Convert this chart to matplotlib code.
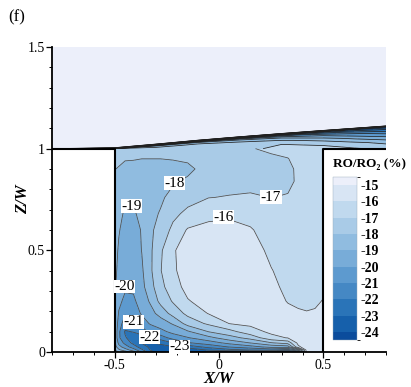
import numpy as np
import matplotlib.pyplot as plt
from matplotlib.colors import ListedColormap, BoundaryNorm
from matplotlib.cm import ScalarMappable
from matplotlib.ticker import MultipleLocator

plt.rcParams['font.family'] = ['Liberation Serif', 'DejaVu Serif']

# ---- canyon field: RO/RO2 (%) ----
x_canyon = [-0.5, -0.48, -0.45, -0.41, -0.37, -0.33, -0.28, -0.22, -0.15,
            -0.05, 0.05, 0.15, 0.25, 0.33, 0.38, 0.42, 0.46, 0.5]
z_canyon = [0, 0.01, 0.025, 0.045, 0.07, 0.1, 0.14, 0.19, 0.25, 0.32, 0.4,
            0.5, 0.6, 0.68, 0.76, 0.84, 0.9, 0.95, 1.0]
# one list per x column, bottom -> top
ro_cols = [
    [-17.5, -18.0, -18.5, -18.8, -18.9, -18.9, -18.9, -18.9, -18.9, -18.85, -18.8, -18.75, -18.7, -18.6, -18.4, -18.2, -17.98, -17.8, -17.7],
    [-18.0, -18.8, -19.6, -20.3, -20.8, -20.8, -20.5, -20.1, -19.7, -19.4, -19.2, -19.08, -18.95, -18.85, -18.6, -18.35, -18.05, -17.85, -17.75],
    [-18.5, -19.5, -20.5, -21.3, -21.9, -22.1, -21.5, -20.9, -20.3, -19.8, -19.55, -19.4, -19.25, -19.08, -18.8, -18.5, -18.2, -17.95, -17.85],
    [-19.5, -20.5, -21.5, -22.3, -22.5, -21.95, -21.1, -20.7, -20.2, -19.8, -19.6, -19.45, -19.3, -19.1, -18.75, -18.5, -18.3, -17.95, -17.9],
    [-21.0, -21.8, -22.5, -23.05, -22.5, -21.5, -20.6, -19.85, -19.5, -19.3, -19.15, -18.98, -18.95, -18.8, -18.6, -18.5, -18.3, -18.0, -17.85],
    [-22.5, -23.0, -23.2, -23.05, -22.05, -20.8, -19.9, -19.35, -18.9, -18.4, -18.2, -18.2, -18.25, -18.35, -18.45, -18.5, -18.35, -18.0, -17.8],
    [-23.9, -23.7, -23.4, -22.75, -21.5, -20.3, -19.5, -18.65, -17.7, -17.3, -17.05, -17.15, -17.5, -17.9, -18.2, -18.4, -18.3, -18.0, -17.8],
    [-24.05, -23.6, -23.1, -21.98, -20.6, -19.7, -18.9, -17.6, -16.9, -16.4, -16.15, -16.1, -16.8, -17.2, -17.6, -18.15, -18.35, -17.95, -17.8],
    [-24.2, -23.7, -22.6, -21.1, -20.07, -19.15, -17.6, -16.75, -16.07, -15.7, -15.55, -15.55, -15.9, -16.8, -17.3, -17.8, -18.3, -17.8, -17.7],
    [-24.2, -22.9, -21.7, -20.5, -19.3, -17.98, -16.83, -15.95, -15.6, -15.45, -15.4, -15.45, -15.75, -16.24, -17.02, -17.35, -17.45, -17.55, -17.65],
    [-24.4, -22.3, -20.95, -19.7, -18.4, -17.35, -15.98, -15.7, -15.5, -15.4, -15.35, -15.4, -15.7, -16.17, -16.95, -17.3, -17.4, -17.5, -17.6],
    [-24.5, -21.95, -20.4, -18.97, -17.65, -16.4, -15.8, -15.55, -15.4, -15.35, -15.35, -15.5, -15.9, -16.4, -16.88, -17.3, -17.35, -17.3, -17.05],
    [-24.6, -21.7, -19.7, -18.07, -16.3, -15.8, -15.6, -15.55, -15.6, -15.7, -15.95, -16.25, -16.5, -16.7, -17.01, -17.3, -17.3, -17.15, -16.85],
    [-24.8, -22.5, -19.5, -17.6, -15.95, -15.7, -15.6, -15.75, -16.05, -16.3, -16.4, -16.45, -16.55, -16.7, -16.95, -17.15, -17.15, -17.02, -16.8],
    [-23.0, -20.5, -16.2, -15.7, -15.6, -15.6, -15.7, -15.9, -16.15, -16.35, -16.45, -16.5, -16.55, -16.6, -16.75, -16.9, -16.88, -16.8, -16.7],
    [-15.6, -15.55, -15.5, -15.5, -15.5, -15.55, -15.7, -15.95, -16.2, -16.35, -16.45, -16.5, -16.55, -16.6, -16.65, -16.7, -16.7, -16.65, -16.6],
    [-15.6, -15.55, -15.5, -15.5, -15.5, -15.55, -15.7, -15.9, -16.15, -16.3, -16.4, -16.45, -16.5, -16.55, -16.6, -16.65, -16.65, -16.6, -16.55],
    [-15.6, -15.55, -15.5, -15.5, -15.5, -15.55, -15.65, -15.8, -15.95, -16.2, -16.35, -16.45, -16.5, -16.55, -16.6, -16.65, -16.65, -16.6, -16.55],
]

# ---- flow above the roofs: shear layer under a sloping top edge ----
x_upper = [-0.8, -0.5, -0.3, -0.1, 0.1, 0.3, 0.5, 0.65, 0.8]
layer_top = [1.0, 1.0, 1.018, 1.037, 1.054, 1.07, 1.085, 1.096, 1.107]
layer_frac = [0, 0.3, 0.55, 0.75, 0.88, 0.95, 1.0]
# one list per x column: layer rows bottom -> top, then just above the layer, then domain top
ro_upper_cols = [
    [-14.8, -14.8, -14.8, -14.8, -14.8, -14.8, -14.8, -14.8, -14.8],
    [-17.7, -17.9, -19.0, -20.5, -22.0, -23.0, -24.0, -14.8, -14.8],
    [-17.8, -17.9, -18.3, -19.0, -20.5, -22.0, -23.5, -14.8, -14.8],
    [-17.65, -17.7, -17.8, -18.3, -19.5, -21.5, -23.5, -14.8, -14.8],
    [-17.25, -17.3, -17.8, -18.5, -20.0, -22.0, -24.0, -14.8, -14.8],
    [-16.8, -17.0, -17.8, -19.0, -20.5, -22.5, -24.3, -14.8, -14.8],
    [-16.55, -17.3, -18.5, -20.0, -21.5, -23.0, -24.5, -14.8, -14.8],
    [-16.9, -17.8, -19.3, -20.8, -22.3, -23.5, -24.6, -14.8, -14.8],
    [-17.2, -18.3, -20.0, -21.5, -23.0, -24.0, -24.8, -14.8, -14.8],
]

levels = [-40, -24, -23, -22, -21, -20, -19, -18, -17, -16, -15, -5]
line_levels = [-24, -23, -22, -21, -20, -19, -18, -17, -16, -15]
band_colors = ['#0b4c9c', '#1660ab', '#2a74b8', '#4588c4', '#5d9acf', '#78acd8',
               '#90bce0', '#a9cbe7', '#c0d9ee', '#d8e5f4', '#eceffa']
cbar_ticks = [-24, -23, -22, -21, -20, -19, -18, -17, -16, -15]

label_levels = [-16, -17, -18, -19, -20, -21, -22, -23]
label_pos = [(0.02, 0.663), (0.249, 0.762), (-0.212, 0.831), (-0.42, 0.716),
             (-0.451, 0.322), (-0.411, 0.149), (-0.332, 0.072), (-0.188, 0.026)]

bld_h = 1.0
half_w = 0.5
x_lim = (-0.8, 0.8)
z_lim = (0, 1.5)

fig = plt.figure(figsize=(4.11, 3.87), dpi=100)
ax = fig.add_axes([0.1265, 0.0904, 0.8127, 0.7882])

Xc, Zc = np.meshgrid(x_canyon, z_canyon)
Vc = np.array(ro_cols).T

top = np.array(layer_top)
Zu = np.vstack([1 + f * (top - 1) for f in layer_frac] + [top + 0.005, np.full_like(top, 1.5)])
Xu = np.tile(x_upper, (Zu.shape[0], 1))
Vu = np.array(ro_upper_cols).T

ax.contourf(Xc, Zc, Vc, levels=levels, colors=band_colors)
ax.contourf(Xu, Zu, Vu, levels=levels, colors=band_colors)
ax.contour(Xc, Zc, Vc, levels=line_levels, colors='#4a4a4a', linewidths=0.55, linestyles='solid')
ax.contour(Xu, Zu, Vu, levels=line_levels, colors='#202020', linewidths=0.55, linestyles='solid')

# contour labels, boxed like the original
for lev, (lx, lz) in zip(label_levels, label_pos):
    ax.text(lx, lz, str(lev), fontsize=11, ha='center', va='center', zorder=5,
            bbox=dict(facecolor='white', edgecolor='none', pad=0.3))

# building outlines
ax.plot([x_lim[0], -half_w, -half_w], [bld_h, bld_h, 0], color='black', lw=1.5)
ax.plot([half_w, half_w, x_lim[1]], [0, bld_h, bld_h], color='black', lw=1.5)

ax.set_xlim(x_lim)
ax.set_ylim(z_lim)
for s in ['top', 'right']:
    ax.spines[s].set_visible(False)
for s in ['left', 'bottom']:
    ax.spines[s].set_linewidth(1.3)
ax.set_xticks([-0.5, 0, 0.5], ['-0.5', '0', '0.5'])
ax.set_yticks([0, 0.5, 1, 1.5], ['0', '0.5', '1', '1.5'])
ax.xaxis.set_minor_locator(MultipleLocator(0.1))
ax.yaxis.set_minor_locator(MultipleLocator(0.1))
ax.tick_params(which='major', direction='out', length=4, width=0.9, labelsize=10, pad=1)
ax.tick_params(which='minor', direction='out', length=2.5, width=0.7)
ax.set_xlabel('X/W', fontsize=12, fontweight='bold', style='italic', labelpad=-1)
ax.set_ylabel('Z/W', fontsize=12, fontweight='bold', style='italic', labelpad=-2)

# legend bar inside the right building
cax = fig.add_axes([0.810, 0.1214, 0.058, 0.4212])
cb_bounds = [-24.5] + cbar_ticks + [-14.5]
sm = ScalarMappable(norm=BoundaryNorm(cb_bounds, len(band_colors)), cmap=ListedColormap(band_colors))
cb = fig.colorbar(sm, cax=cax, ticks=cbar_ticks, spacing='proportional')
cb.outline.set_linewidth(0.3)
cb.outline.set_edgecolor('#99aabb')
cax.set_yticklabels([str(t) for t in cbar_ticks], fontweight='bold', fontsize=10)
cax.tick_params(length=0, pad=3)
fig.text(0.81, 0.575, 'RO/RO\u2082 (%)', fontsize=9.5, fontweight='bold', va='center')

fig.text(0.02, 0.975, '(f)', fontsize=12, va='top')

fig.savefig('out.png', dpi=100)
